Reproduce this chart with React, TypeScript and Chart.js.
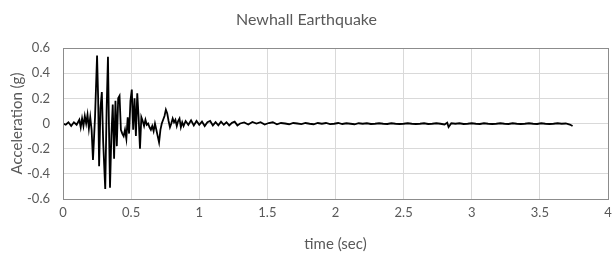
import React, { useEffect, useRef } from "react";
import { Chart, registerables } from "chart.js";

Chart.register(...registerables);

const TITLE = "Newhall Earthquake";
const X_TITLE = "time (sec)";
const Y_TITLE = "Acceleration (g)";

const timeSec: number[] = [
  0.0, 0.02, 0.04, 0.06, 0.08, 0.1, 0.12, 0.13, 0.14, 0.15, 0.16, 0.17, 0.18, 0.19, 0.2, 0.21,
  0.22, 0.235, 0.25, 0.258, 0.265, 0.275, 0.285, 0.295, 0.31, 0.32, 0.33, 0.337, 0.345, 0.355,
  0.365, 0.375, 0.385, 0.395, 0.405, 0.415, 0.425, 0.435, 0.445, 0.455, 0.465, 0.475, 0.485,
  0.495, 0.505, 0.515, 0.525, 0.535, 0.545, 0.555, 0.565, 0.575, 0.585, 0.595, 0.605, 0.615,
  0.625, 0.635, 0.645, 0.655, 0.665, 0.675, 0.685, 0.695, 0.705, 0.715, 0.725, 0.735, 0.745,
  0.755, 0.765, 0.775, 0.785, 0.795, 0.805, 0.815, 0.825, 0.835, 0.845, 0.855, 0.865, 0.875,
  0.885, 0.9, 0.92, 0.94, 0.96, 0.98, 1.0, 1.02, 1.04, 1.06, 1.08, 1.1, 1.12, 1.14, 1.16, 1.18,
  1.2, 1.22, 1.24, 1.26, 1.28, 1.3, 1.33, 1.36, 1.39, 1.42, 1.45, 1.48, 1.51, 1.54, 1.57, 1.6,
  1.63, 1.66, 1.69, 1.72, 1.75, 1.78, 1.81, 1.84, 1.87, 1.9, 1.93, 1.96, 1.99, 2.02, 2.05, 2.08,
  2.11, 2.14, 2.17, 2.2, 2.23, 2.26, 2.29, 2.32, 2.35, 2.38, 2.41, 2.44, 2.47, 2.5, 2.53, 2.56,
  2.59, 2.62, 2.65, 2.68, 2.71, 2.74, 2.77, 2.8, 2.82, 2.83, 2.85, 2.88, 2.91, 2.94, 2.97, 3.0,
  3.03, 3.06, 3.09, 3.12, 3.15, 3.18, 3.21, 3.24, 3.27, 3.3, 3.33, 3.36, 3.39, 3.42, 3.45, 3.48,
  3.51, 3.54, 3.57, 3.6, 3.63, 3.66, 3.69, 3.72, 3.74,
];

const accelG: number[] = [
  0.0, -0.01, 0.01, -0.02, 0.01, -0.01, 0.03, -0.03, 0.04, -0.02, 0.06, 0.0, 0.07, -0.04, 0.05, -0.05,
  -0.29, 0.05, 0.54, 0.2, -0.34, 0.12, 0.25, -0.15, -0.52, 0.1, 0.53, 0.0, -0.51, -0.1,
  0.15, -0.28, 0.18, -0.18, 0.2, 0.22, -0.05, -0.08, -0.1, -0.05, -0.12, 0.05, -0.08,
  0.18, 0.27, -0.05, 0.2, -0.1, 0.24, 0.05, -0.2, 0.05, 0.02, -0.02, 0.03, -0.01,
  0.0, -0.03, -0.05, -0.02, -0.06, 0.0, -0.05, -0.1, -0.15, -0.05, 0.0, 0.03, 0.06,
  0.11, 0.08, 0.02, -0.03, 0.0, 0.04, 0.01, 0.03, -0.02, 0.02, 0.04, -0.03, 0.01,
  -0.02, 0.02, -0.01, 0.025, -0.015, 0.02, -0.01, 0.015, -0.02, 0.01, 0.02, -0.015, 0.01, -0.015, 0.015, -0.01,
  0.01, -0.015, 0.005, 0.015, -0.015, 0.0, 0.008, -0.008, 0.012, 0.0, 0.01, -0.008, 0.004, 0.01, -0.006, 0.004,
  0.0, -0.006, 0.004, 0.0, -0.005, 0.004, -0.002, -0.006, 0.004, -0.002, 0.004, -0.005, -0.002, 0.004, -0.004, 0.002,
  -0.002, -0.006, 0.002, -0.002, 0.002, -0.004, -0.002, 0.002, -0.002, -0.004, 0.002, -0.002, -0.004, -0.002, 0.002, -0.002,
  -0.004, -0.002, 0.002, -0.004, -0.002, 0.002, -0.002, -0.008, 0.006, -0.028, 0.002, -0.002, 0.002, -0.004, -0.002, 0.002,
  -0.002, -0.004, 0.002, -0.002, -0.004, -0.002, 0.002, -0.002, -0.004, 0.002, -0.002, -0.004, -0.002, 0.002, -0.002, -0.004,
  0.002, -0.002, -0.004, -0.002, 0.002, -0.002, 0.0, -0.008, -0.02,
];

const FONT = "Lato, 'Liberation Sans', sans-serif";
const TEXT = "#595959";

const plotBorder = {
  id: "plotBorder",
  afterDatasetsDraw(chart: any) {
    const { ctx, chartArea } = chart;
    ctx.save();
    ctx.strokeStyle = "#8c8c8c";
    ctx.lineWidth = 1;
    ctx.strokeRect(
      Math.round(chartArea.left) + 0.5,
      Math.round(chartArea.top) + 0.5,
      Math.round(chartArea.right - chartArea.left),
      Math.round(chartArea.bottom - chartArea.top)
    );
    ctx.restore();
  },
};

export default function App() {
  const canvasRef = useRef<HTMLCanvasElement | null>(null);

  useEffect(() => {
    document.body.style.margin = "0";
    const canvas = canvasRef.current;
    if (!canvas) return;
    const points = timeSec.map((t, i) => ({ x: t, y: accelG[i] }));
    const chart = new Chart(canvas, {
      type: "line",
      data: {
        datasets: [
          {
            data: points,
            borderColor: "#000000",
            borderWidth: 1.8,
            pointRadius: 0,
            tension: 0,
            fill: false,
          },
        ],
      },
      plugins: [plotBorder],
      options: {
        animation: false,
        responsive: false,
        maintainAspectRatio: false,
        layout: { padding: { top: 2, right: 0, bottom: 0, left: 0 } },
        plugins: {
          legend: { display: false },
          tooltip: { enabled: false },
          title: {
            display: true,
            text: TITLE,
            color: TEXT,
            font: { family: FONT, size: 16, weight: "normal" },
            padding: { top: 8, bottom: 18.8 },
          },
        },
        scales: {
          x: {
            type: "linear",
            min: 0,
            max: 4,
            ticks: {
              stepSize: 0.5,
              color: TEXT,
              font: { family: FONT, size: 13 },
              padding: 6,
              maxRotation: 0,
              callback: (v: any) => String(Number(Number(v).toFixed(1))),
            },
            grid: { color: "#d9d9d9", drawTicks: false },
            border: { display: false },
            title: {
              display: true,
              text: X_TITLE,
              color: TEXT,
              font: { family: FONT, size: 15 },
              padding: { top: 0, bottom: 4 },
            },
            afterFit: (scale: any) => {
              scale.height = 58;
              scale.paddingRight = 5;
            },
          },
          y: {
            type: "linear",
            min: -0.6,
            max: 0.6,
            ticks: {
              stepSize: 0.2,
              color: TEXT,
              font: { family: FONT, size: 13 },
              padding: 13,
              callback: (v: any) => String(Number(Number(v).toFixed(1))),
            },
            grid: { color: "#d9d9d9", drawTicks: false },
            border: { display: false },
            title: {
              display: true,
              text: Y_TITLE,
              color: TEXT,
              font: { family: FONT, size: 15 },
              padding: { top: 8, bottom: 0 },
            },
            afterFit: (scale: any) => {
              scale.width = 63;
            },
          },
        },
      },
    });
    return () => chart.destroy();
  }, []);

  return (
    <div style={{ position: "absolute", left: 0, top: 0, width: 613, height: 257 }}>
      <canvas ref={canvasRef} width={613} height={257} style={{ display: "block" }} />
    </div>
  );
}
